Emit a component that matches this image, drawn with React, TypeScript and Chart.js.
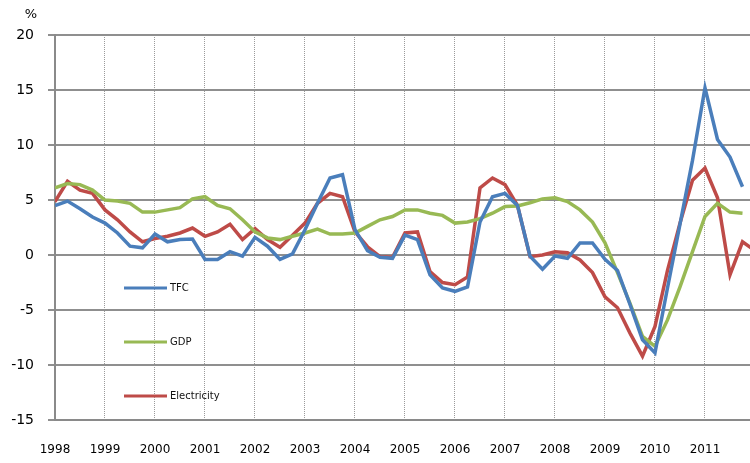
import React, { useEffect, useRef } from "react";
import { Chart, registerables } from "chart.js";

Chart.register(...registerables);

const years = [1998, 1999, 2000, 2001, 2002, 2003, 2004, 2005, 2006, 2007, 2008, 2009, 2010, 2011];
const quarterOffsets = [0, 0.25, 0.5, 0.75];

const tfc = [
  4.5, 4.9, 4.2, 3.45,
  2.9, 2.0, 0.8, 0.65,
  1.9, 1.2, 1.4, 1.45,
  -0.4, -0.4, 0.3, -0.1,
  1.6, 0.8, -0.4, 0.1,
  2.3, 4.7, 7.0, 7.3,
  2.3, 0.4, -0.2, -0.3,
  1.8, 1.4, -1.8, -3.0,
  -3.3, -2.9, 3.0, 5.3,
  5.6, 4.5, -0.1, -1.3,
  -0.1, -0.3, 1.1, 1.1,
  -0.4, -1.4, -4.5, -7.7,
  -8.9, -3.0, 2.8, 8.6,
  15.2, 10.5, 8.9, 6.2,
];

const gdp = [
  6.1, 6.5, 6.4, 5.9,
  5.0, 4.9, 4.7, 3.9,
  3.9, 4.1, 4.3, 5.1,
  5.3, 4.5, 4.2, 3.2,
  2.1, 1.55, 1.4, 1.7,
  2.0, 2.35, 1.9, 1.9,
  2.0, 2.6, 3.2, 3.5,
  4.1, 4.1, 3.8, 3.6,
  2.9, 3.0, 3.3, 3.8,
  4.4, 4.45, 4.75, 5.1,
  5.2, 4.85, 4.1, 3.0,
  1.1, -1.6, -4.4, -7.4,
  -8.3, -5.9, -2.9, 0.3,
  3.5, 4.7, 3.9, 3.8,
];

const electricity = [
  4.85, 6.7, 5.9, 5.6,
  4.1, 3.2, 2.1, 1.2,
  1.5, 1.7, 2.0, 2.45,
  1.7, 2.1, 2.8, 1.4,
  2.4, 1.4, 0.7, 1.8,
  2.9, 4.7, 5.6, 5.3,
  2.1, 0.75, -0.15, -0.2,
  2.0, 2.1, -1.5, -2.5,
  -2.7, -2.0, 6.1, 7.0,
  6.4, 4.5, -0.15, 0.0,
  0.3, 0.2, -0.45, -1.6,
  -3.8, -4.8, -7.1, -9.2,
  -6.5, -1.4, 2.9, 6.8,
  7.9, 5.2, -1.8, 1.2,
  0.4,
];

const yTicks = [-15, -10, -5, 0, 5, 10, 15, 20];
const seriesNames = ["TFC", "GDP", "Electricity"];
const seriesColors = ["#4a7ebb", "#98b954", "#be4b48"];

const xPositions: number[] = [];
for (const y of [...years, 2012]) for (const q of quarterOffsets) xPositions.push(y + q);

const toPoints = (vals: number[]) => vals.map((v, i) => ({ x: xPositions[i], y: v }));

const overlayPlugin = {
  id: "overlay",
  afterDraw(chart: any) {
    const ctx = chart.ctx;
    ctx.save();
    ctx.fillStyle = "#000";
    ctx.font = "13px 'DejaVu Sans'";
    ctx.textAlign = "center";
    ctx.textBaseline = "middle";
    ctx.fillText("%", 31, 15);
    const legendY = [288, 342, 396];
    seriesNames.forEach((name, i) => {
      ctx.strokeStyle = seriesColors[i];
      ctx.lineWidth = 3;
      ctx.beginPath();
      ctx.moveTo(124, legendY[i]);
      ctx.lineTo(167, legendY[i]);
      ctx.stroke();
      ctx.fillStyle = "#111";
      ctx.font = "10px 'DejaVu Sans'";
      ctx.textAlign = "left";
      ctx.textBaseline = "middle";
      ctx.fillText(name, 170, legendY[i]);
    });
    ctx.restore();
  },
};

export default function App() {
  const ref = useRef<HTMLCanvasElement | null>(null);
  useEffect(() => {
    document.body.style.margin = "0";
    const canvas = ref.current;
    if (!canvas) return;
    const chart = new Chart(canvas, {
      type: "line",
      data: {
        datasets: [
          { label: seriesNames[0], data: toPoints(tfc), borderColor: seriesColors[0], borderWidth: 3.5, pointRadius: 0, tension: 0 },
          { label: seriesNames[1], data: toPoints(gdp), borderColor: seriesColors[1], borderWidth: 3.5, pointRadius: 0, tension: 0 },
          { label: seriesNames[2], data: toPoints(electricity), borderColor: seriesColors[2], borderWidth: 3.5, pointRadius: 0, tension: 0 },
        ],
      },
      options: {
        responsive: false,
        animation: false,
        devicePixelRatio: 1,
        layout: { padding: { top: 35, left: 0, right: 0, bottom: 0 } },
        plugins: { legend: { display: false }, tooltip: { enabled: false } },
        scales: {
          x: {
            type: "linear",
            min: years[0],
            max: 2011.9,
            afterFit: (s: any) => { s.height = 43; },
            ticks: {
              stepSize: 1,
              includeBounds: false,
              autoSkip: false,
              maxRotation: 0,
              padding: 23,
              color: "#000",
              font: { family: "'DejaVu Sans'", size: 12 },
              callback: (v: any) => String(v),
            },
            grid: { color: "#9a9a9a", lineWidth: 1, drawTicks: false },
            border: { display: true, color: "#8a8a8a", width: 2, dash: [1, 1] },
          },
          y: {
            min: yTicks[0],
            max: yTicks[yTicks.length - 1],
            afterFit: (s: any) => { s.width = 55; },
            afterBuildTicks: (s: any) => { s.ticks = yTicks.map((v) => ({ value: v })); },
            ticks: {
              padding: 14,
              color: "#000",
              font: { family: "'DejaVu Sans'", size: 14 },
              callback: (v: any) => String(v),
            },
            grid: { color: "#8f8f8f", lineWidth: 2, tickLength: 7 },
            border: { display: true, color: "#8a8a8a", width: 2 },
          },
        },
      },
      plugins: [overlayPlugin],
    } as any);
    return () => chart.destroy();
  }, []);
  return (
    <div style={{ width: 750, height: 463 }}>
      <canvas ref={ref} width={750} height={463} style={{ display: "block", width: 750, height: 463 }} />
    </div>
  );
}
